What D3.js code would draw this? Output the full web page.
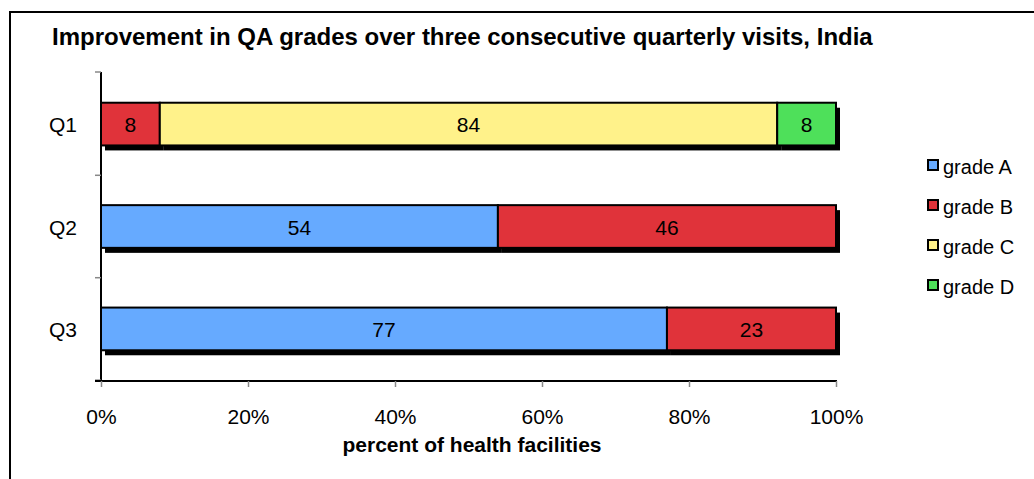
<!DOCTYPE html>
<html>
<head>
<meta charset="utf-8">
<script src="https://cdn.jsdelivr.net/npm/d3@7"></script>
<style>
  body { margin: 0; background: #fff; }
  svg text { font-family: "Liberation Sans", Arial, sans-serif; fill: #000; }
</style>
</head>
<body>
<div id="chart"></div>
<script>
// data
var quarters = ['Q1', 'Q2', 'Q3'];
var grades = ['grade A', 'grade B', 'grade C', 'grade D'];
var gradeA = [0, 54, 77];
var gradeB = [8, 46, 23];
var gradeC = [84, 0, 0];
var gradeD = [8, 0, 0];
var colors = ['#66aaff', '#e0333a', '#fff28a', '#4ee05a'];
var xTicks = [0, 20, 40, 60, 80, 100];

var width = 1034, height = 479;

var svg = d3.select('#chart').append('svg')
  .attr('width', width)
  .attr('height', height);

// outer frame (runs off the right/bottom edge)
svg.append('rect')
  .attr('x', 10).attr('y', 12)
  .attr('width', 1040).attr('height', 480)
  .attr('fill', 'none').attr('stroke', '#000').attr('stroke-width', 2);

svg.append('text')
  .attr('x', 52).attr('y', 45)
  .style('font-size', '24px').style('font-weight', 'bold')
  .text('Improvement in QA grades over three consecutive quarterly visits, India');

var x = d3.scaleLinear().domain([0, 100]).range([101, 836]);
var y = d3.scaleBand().domain(quarters).range([72, 381]).paddingInner(0.583).paddingOuter(0.3);

// stack
var series = [gradeA, gradeB, gradeC, gradeD];
var rows = quarters.map(function(q, i) {
  var o = { q: q };
  grades.forEach(function(g, j) { o[g] = series[j][i]; });
  return o;
});
var stacked = d3.stack().keys(grades)(rows);

var segs = [];
stacked.forEach(function(layer, j) {
  layer.forEach(function(d) {
    if (d[1] - d[0] > 0) segs.push({ q: d.data.q, x0: d[0], x1: d[1], v: d[1] - d[0], c: colors[j] });
  });
});

// shadows
svg.append('g').selectAll('rect').data(segs).enter().append('rect')
  .attr('x', function(d) { return x(d.x0) + 4; })
  .attr('y', function(d) { return y(d.q) + 5; })
  .attr('width', function(d) { return x(d.x1) - x(d.x0); })
  .attr('height', y.bandwidth())
  .attr('fill', '#000');

var bars = svg.append('g').selectAll('g').data(segs).enter().append('g');
bars.append('rect')
  .attr('x', function(d) { return x(d.x0); })
  .attr('y', function(d) { return y(d.q); })
  .attr('width', function(d) { return x(d.x1) - x(d.x0); })
  .attr('height', y.bandwidth())
  .attr('fill', function(d) { return d.c; })
  .attr('stroke', '#000').attr('stroke-width', 2);
bars.append('text')
  .attr('x', function(d) { return (x(d.x0) + x(d.x1)) / 2; })
  .attr('y', function(d) { return y(d.q) + y.bandwidth() / 2 + 8; })
  .attr('text-anchor', 'middle')
  .style('font-size', '21px')
  .text(function(d) { return d.v; });

// y axis
svg.append('line').attr('x1', 101).attr('x2', 101).attr('y1', 72).attr('y2', 381)
  .attr('stroke', '#000').attr('stroke-width', 2);
var yTickPos = [72].concat(quarters.map(function(q) { return y(q) + y.bandwidth() + y.step() * 0.583 / 2; }));
svg.append('g').selectAll('line').data(yTickPos).enter().append('line')
  .attr('x1', 95).attr('x2', 101)
  .attr('y1', function(d) { return d; }).attr('y2', function(d) { return d; })
  .attr('stroke', '#888').attr('stroke-width', 1.5);
svg.append('g').selectAll('text').data(quarters).enter().append('text')
  .attr('x', 77)
  .attr('y', function(d) { return y(d) + y.bandwidth() / 2 + 8; })
  .attr('text-anchor', 'end')
  .style('font-size', '21px')
  .text(function(d) { return d; });

// x axis
var xAxis = svg.append('g').attr('transform', 'translate(0,381)')
  .call(d3.axisBottom(x).tickValues(xTicks).tickSize(6).tickPadding(28)
    .tickFormat(function(d) { return d + '%'; }));
xAxis.select('.domain').attr('stroke', '#000').attr('stroke-width', 2)
  .attr('d', 'M95,0H837');
xAxis.selectAll('.tick line').attr('stroke', '#888').attr('stroke-width', 1.5);
xAxis.selectAll('.tick text').attr('dy', 0).style('font-size', '21px')
  .style('font-family', '"Liberation Sans", Arial, sans-serif').attr('fill', '#000')
  .attr('y', 43);

svg.append('text')
  .attr('x', 472).attr('y', 452)
  .attr('text-anchor', 'middle')
  .style('font-size', '21px').style('font-weight', 'bold')
  .text('percent of health facilities');

// legend
var legend = svg.append('g').selectAll('g').data(grades).enter().append('g')
  .attr('transform', function(d, i) { return 'translate(928,' + (160 + i * 40) + ')'; });
legend.append('rect')
  .attr('width', 10).attr('height', 10)
  .attr('fill', function(d, i) { return colors[i]; })
  .attr('stroke', '#000').attr('stroke-width', 2);
legend.append('text')
  .attr('x', 15).attr('y', 14)
  .style('font-size', '20px')
  .text(function(d) { return d; });
</script>
</body>
</html>
